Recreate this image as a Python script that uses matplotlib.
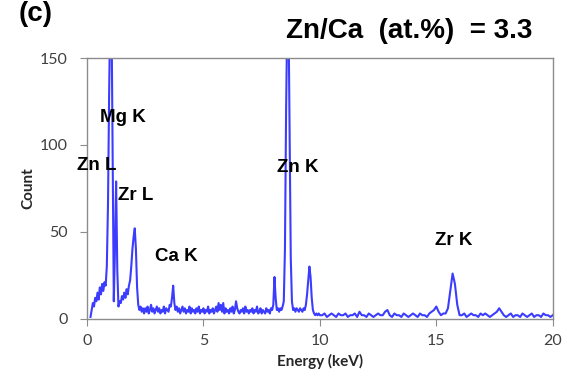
import numpy as np
import matplotlib
matplotlib.use("Agg")
import matplotlib.pyplot as plt

# EDS spectrum (energy in keV, counts)
# low-energy region, 0.05 keV channels
e_low = np.round(np.arange(0.15, 2.401, 0.05), 2)
c_low = [1, 5, 9, 7, 12, 10, 15, 11, 18, 14,
         20, 16, 21, 19, 30, 65, 130, 180, 180, 95,
         10, 40, 79, 28, 7, 10, 9, 13, 11, 15,
         12, 17, 14, 19, 22, 30, 40, 47, 52, 40,
         18, 8, 5, 7, 4, 6]

# baseline with the Ca K line
e_mid = np.round(np.arange(2.45, 7.951, 0.05), 2)
c_mid = [3, 6, 4, 7, 3, 5, 8, 4, 6, 3, 5, 7, 4, 6, 3, 5, 4, 7, 3, 6,
         5, 4, 8, 7, 12, 19, 9, 5, 7, 4, 6,
         3, 5, 7, 4, 6, 3, 5, 4, 7, 3, 6, 4, 5, 3, 6, 4, 7, 3, 5, 4,
         6, 3, 5, 4, 7, 3, 5, 4, 6, 3, 5, 7, 4, 9, 5, 8, 4, 9, 3, 6,
         4, 5, 3, 6, 4, 7, 3, 5, 10, 6, 4, 3, 5, 4, 6, 3, 7, 4, 5, 3,
         5, 4, 6, 3, 5, 4, 7, 3, 4, 6, 3, 5, 4, 3, 6, 4, 5, 3, 6, 5]

# Zn K region
e_zn = np.round(np.arange(8.0, 10.001, 0.05), 2)
c_zn = [8, 24, 12, 5, 6, 4, 6, 5, 7, 10,
        40, 120, 175, 180, 110, 35, 10, 5, 6, 4,
        6, 5, 4, 6, 5, 4, 6, 5, 8, 14,
        22, 30, 24, 12, 5, 3, 2, 3, 2, 3, 2]

# high-energy tail with Zr K
e_high = np.round(np.arange(10.1, 20.001, 0.1), 1)
c_high = [2, 3, 1, 2, 3, 2, 1, 3, 2, 2,
          3, 1, 2, 2, 3, 1, 4, 2, 2, 1,
          3, 2, 1, 2, 3, 2, 2, 4, 5, 2,
          1, 3, 2, 2, 1, 3, 2, 1, 2, 3,
          2, 1, 3, 2, 2, 1, 3, 4, 5, 7,
          4, 2, 3, 3, 6, 16, 26, 20, 8, 2,
          2, 3, 1, 2, 3, 2, 2, 1, 3, 2,
          3, 2, 1, 2, 3, 4, 6, 4, 2, 1,
          2, 3, 1, 2, 2, 1, 3, 2, 1, 2,
          3, 1, 2, 2, 1, 3, 2, 2, 1, 2]

energy = np.concatenate([e_low, e_mid, e_zn, e_high])
counts = np.concatenate([c_low, c_mid, c_zn, c_high])

peak_labels = ["Mg K", "Zn L", "Zr L", "Ca K", "Zn K", "Zr K"]
label_x = [1.55, 0.43, 2.1, 3.83, 9.03, 15.73]
label_y = [116, 88, 71, 36, 87, 45]

fig = plt.figure(figsize=(5.71, 3.87), dpi=100)
ax = fig.add_axes([0.1524, 0.1765, 0.8156, 0.6735])

ax.plot(energy, counts, color="#3c3cff", lw=1.5)

for lab, x, y in zip(peak_labels, label_x, label_y):
    ax.text(x, y, lab, ha="center", va="center", fontsize=13.5,
            fontweight="bold", family="Liberation Sans", clip_on=False)

ax.set_xlim(0, 20)
ax.set_ylim(0, 150)
ax.set_xticks([0, 5, 10, 15, 20])
ax.set_yticks([0, 50, 100, 150])

for s in ax.spines.values():
    s.set_color("#8c8c8c")
    s.set_linewidth(1.0)
ax.tick_params(direction="out", length=5, color="#8c8c8c", labelsize=11.5,
               labelcolor="#404040")
ax.tick_params(axis="y", pad=9)
ax.tick_params(axis="x", pad=6)
for t in ax.get_xticklabels() + ax.get_yticklabels():
    t.set_family("Lato")

ax.set_xlabel("Energy (keV)", fontsize=11, fontweight="bold", family="Lato",
              color="#262626", labelpad=4)
ax.set_ylabel("Count", fontsize=11, fontweight="bold", family="Lato",
              color="#262626", labelpad=3)

fig.text(0.063, 0.965, "(c)", fontsize=20, fontweight="bold",
         family="Liberation Sans", ha="center", va="center")
fig.text(0.716, 0.92, "Zn/Ca  (at.%)  = 3.3", fontsize=20, fontweight="bold",
         family="Liberation Sans", ha="center", va="center")

fig.savefig("out.png", dpi=100)
